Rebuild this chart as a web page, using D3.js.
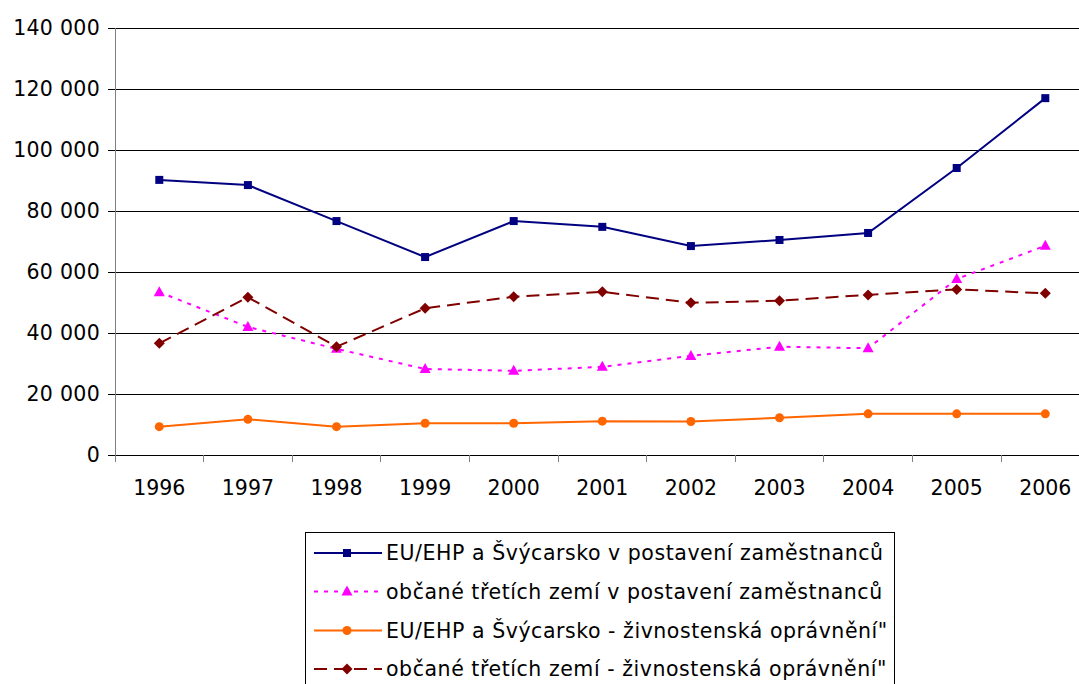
<!DOCTYPE html>
<html><head><meta charset="utf-8">
<script src="https://cdn.jsdelivr.net/npm/d3@7"></script>
<style>body{margin:0;background:#fff;overflow:hidden}svg{display:block}</style>
</head><body>
<svg id="c" width="1079" height="684"></svg>
<script>
const years = ["1996","1997","1998","1999","2000","2001","2002","2003","2004","2005","2006"];
const yTicks = [0,20000,40000,60000,80000,100000,120000,140000];
const euEmployees = [90200,88500,76700,64900,76700,74800,68500,70500,72800,94100,117000];
const thirdEmployees = [53400,42000,34800,28200,27600,28900,32500,35500,35000,57700,68600];
const euTrade = [9300,11700,9300,10400,10400,11100,11000,12200,13500,13500,13500];
const thirdTrade = [36600,51700,35500,48100,51900,53500,49900,50600,52500,54300,53000];
const seriesNames = [
  "EU/EHP a Švýcarsko v postavení zaměstnanců",
  "občané třetích zemí v postavení zaměstnanců",
  "EU/EHP a Švýcarsko - živnostenská oprávnění\"",
  "občané třetích zemí - živnostenská oprávnění\""
];

const series = [
  {name:seriesNames[0], values:euEmployees, color:"#000080", dash:null, marker:"square"},
  {name:seriesNames[1], values:thirdEmployees, color:"#ff00ff", dash:"4,6", marker:"triangle"},
  {name:seriesNames[2], values:euTrade, color:"#ff6600", dash:null, marker:"circle"},
  {name:seriesNames[3], values:thirdTrade, color:"#800000", dash:"13,7", marker:"diamond"}
];

const svg = d3.select("#c");
const font = "DejaVu Sans, Verdana, sans-serif";
const L = 115, T = 28, B = 455, R = 115 + 88.6*11;
const x = d3.scaleBand().domain(years).range([L, R]).padding(0);
const y = d3.scaleLinear().domain([0,140000]).range([B, T]);

// gridlines
svg.append("g").selectAll("line").data(yTicks.filter(d=>d>0)).join("line")
  .attr("x1", L).attr("x2", R).attr("y1", d=>y(d)).attr("y2", d=>y(d))
  .attr("stroke", "#000").attr("stroke-width", 1).attr("shape-rendering","crispEdges");

const fmt = d => d3.format(",")(d).replace(/,/g, " ");

// y axis
const ya = svg.append("g").attr("transform", `translate(${L},0)`)
  .call(d3.axisLeft(y).tickValues(yTicks).tickFormat(fmt).tickSize(7).tickPadding(8));
ya.select(".domain").attr("stroke","#808080").attr("shape-rendering","crispEdges");
ya.selectAll(".tick line").attr("stroke","#000").attr("shape-rendering","crispEdges");
ya.selectAll("text").attr("font-family", font).attr("font-size", 20.5).attr("fill","#000").attr("letter-spacing","0.3px");

// x axis
const xa = svg.append("g").attr("transform", `translate(0,${B})`)
  .call(d3.axisBottom(x).tickSize(0).tickPadding(25));
xa.select(".domain").attr("stroke","#000").attr("d", `M${L-7},0H${R}`).attr("shape-rendering","crispEdges");
xa.selectAll("text").attr("font-family", font).attr("font-size", 20.5).attr("fill","#000");
svg.append("g").selectAll("line").data(years).join("line")
  .attr("x1", d=>x(d)).attr("x2", d=>x(d)).attr("y1", B).attr("y2", B+7)
  .attr("stroke","#808080").attr("shape-rendering","crispEdges");

const cx = d => x(d) + x.bandwidth()/2;

function drawMarker(g, type, color) {
  if (type === "square") g.append("rect").attr("x",-4).attr("y",-4).attr("width",8).attr("height",8).attr("fill",color);
  else if (type === "triangle") g.append("path").attr("d","M0,-6L5.5,4L-5.5,4Z").attr("fill",color);
  else if (type === "circle") g.append("circle").attr("r",4.5).attr("fill",color);
  else if (type === "diamond") g.append("path").attr("d","M0,-5.5L5.5,0L0,5.5L-5.5,0Z").attr("fill",color);
}

const line = d3.line().x((d,i)=>cx(years[i])).y(d=>y(d));
series.forEach(s => {
  svg.append("path").datum(s.values).attr("d", line).attr("fill","none")
    .attr("stroke", s.color).attr("stroke-width", 2)
    .attr("stroke-dasharray", s.dash);
  s.values.forEach((v,i) => {
    const g = svg.append("g").attr("transform", `translate(${cx(years[i])},${y(v)})`);
    drawMarker(g, s.marker, s.color);
  });
});

// legend
const lg = svg.append("g");
lg.append("rect").attr("x",305.5).attr("y",532.5).attr("width",589).attr("height",170)
  .attr("fill","#fff").attr("stroke","#000").attr("stroke-width",1);
const rowY = [553, 591.5, 630.5, 669];
series.forEach((s,i) => {
  const ry = rowY[i];
  lg.append("line").attr("x1",314).attr("x2",382).attr("y1",ry).attr("y2",ry)
    .attr("stroke",s.color).attr("stroke-width",2).attr("stroke-dasharray",s.dash);
  const g = lg.append("g").attr("transform",`translate(347,${ry})`);
  drawMarker(g, s.marker, s.color);
  lg.append("text").attr("x",386).attr("y",ry).attr("dy","0.36em")
    .attr("font-family",font).attr("font-size",20.5).attr("letter-spacing","0.55px")
    .attr("fill","#000").text(s.name);
});
</script>
</body></html>
